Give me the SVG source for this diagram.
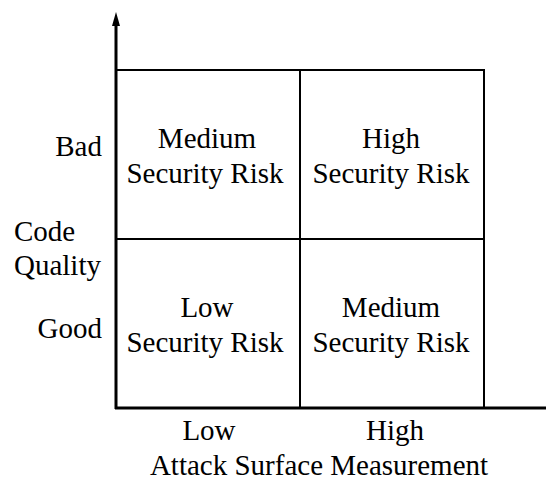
<svg xmlns="http://www.w3.org/2000/svg" width="547" height="483" viewBox="0 0 547 483">
<style>
text{font-size:29px;fill:#000}
.c{text-anchor:middle}
.r{text-anchor:end}
.grid{stroke:#000;stroke-width:2;fill:none}
.axis{stroke:#000;stroke-width:3;fill:none}
</style>
<g id="connectors">
<line class="axis" x1="116" y1="409" x2="116" y2="22"/>
<polygon points="112,26 116,12 120,26" fill="#000"/>
<line class="axis" x1="115" y1="408" x2="546" y2="408"/>
<path class="grid" d="M116,70 H484 V408 M300,70 V408 M116,239 H484"/>
</g>
<g font-family="'Liberation Serif', 'Times New Roman', 'DejaVu Serif', serif">
<g id="q-tl"><text class="c" x="207" y="148">Medium</text><text class="c" x="205" y="183">Security Risk</text></g>
<g id="q-tr"><text class="c" x="391" y="148">High</text><text class="c" x="391" y="183">Security Risk</text></g>
<g id="q-bl"><text class="c" x="207" y="317">Low</text><text class="c" x="205" y="352">Security Risk</text></g>
<g id="q-br"><text class="c" x="391" y="317">Medium</text><text class="c" x="391" y="352">Security Risk</text></g>
<g id="y-labels">
<text class="r" x="102" y="156">Bad</text>
<text x="14" y="241">Code</text>
<text x="14" y="275">Quality</text>
<text class="r" x="102" y="338">Good</text>
</g>
<g id="x-labels">
<text class="c" x="209" y="440">Low</text>
<text class="c" x="395" y="440">High</text>
<text class="c" x="319" y="475">Attack Surface Measurement</text>
</g>
</g>
</svg>
